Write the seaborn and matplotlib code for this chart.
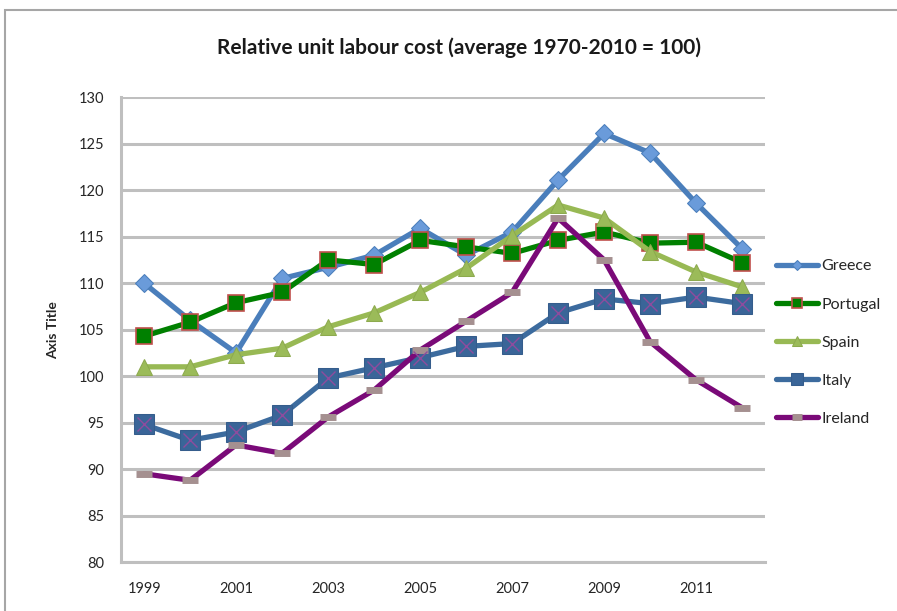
import matplotlib
matplotlib.use("Agg")
import matplotlib.pyplot as plt
from matplotlib.patches import Rectangle
import seaborn as sns

years = list(range(1999, 2013))
greece = [110.0, 106.0, 102.5, 110.5, 111.7, 113.0, 115.9, 113.0, 115.5, 121.1, 126.1, 124.0, 118.6, 113.7]
portugal = [104.3, 105.8, 107.9, 109.0, 112.5, 112.0, 114.6, 113.9, 113.2, 114.6, 115.5, 114.3, 114.4, 112.2]
spain = [101.0, 101.0, 102.3, 103.0, 105.3, 106.8, 109.0, 111.6, 115.1, 118.4, 117.0, 113.4, 111.2, 109.6]
italy = [94.8, 93.1, 94.0, 95.8, 99.8, 100.9, 102.0, 103.2, 103.5, 106.8, 108.3, 107.8, 108.5, 107.8]
ireland = [89.5, 88.8, 92.6, 91.7, 95.6, 98.5, 102.8, 105.9, 109.0, 117.0, 112.5, 103.7, 99.6, 96.6]

y_ticks = list(range(80, 131, 5))
x_ticks = [1999, 2001, 2003, 2005, 2007, 2009, 2011]

sns.set_style("white")
plt.rcParams['font.family'] = ['Lato', 'DejaVu Sans']

fig = plt.figure(figsize=(8.97, 6.11), dpi=100)
ax = fig.add_axes([0.135, 0.080, 0.718, 0.761])

# chart frame
fig.patches.append(Rectangle((0.006, -0.05), 1.2, 1.034, transform=fig.transFigure,
                             fill=False, edgecolor='#A6A6A6', linewidth=1.5))

lw = 3.8
series = [
    ("Greece", greece, dict(color='#4A7EBB', marker='D', markersize=9,
                            markerfacecolor='#6A9BDA', markeredgecolor='#4A7EBB')),
    ("Portugal", portugal, dict(color='#008000', marker='s', markersize=12,
                                markerfacecolor='#008000', markeredgecolor='#C0504D',
                                markeredgewidth=1.2)),
    ("Spain", spain, dict(color='#98B954', marker='^', markersize=12,
                          markerfacecolor='#9BBB59', markeredgecolor='#8DAA4E')),
    ("Italy", italy, dict(color='#3C6B9E', marker='s', markersize=14,
                          markerfacecolor='#3A6598', markeredgecolor='#355D8C')),
    ("Ireland", ireland, dict(color='#7A0A78', marker='_', markersize=12,
                              markeredgewidth=5, markeredgecolor='#A59090')),
]

handles = []
for name, vals, style in series:
    sns.lineplot(x=years, y=vals, ax=ax, linewidth=lw, label=name, zorder=3, **style)
    handles.append(ax.get_lines()[-1])

# purple cross on the Italy squares
sns.lineplot(x=years, y=italy, ax=ax, linestyle='', marker='x', markersize=10,
             markeredgewidth=1.0, color='#8E4C9E', markeredgecolor='#8E4C9E', zorder=4)
if ax.get_legend() is not None:
    ax.get_legend().remove()

leg = ax.legend(handles, [s[0] for s in series],
                loc='center left', bbox_to_anchor=(0.995, 0.472), frameon=False,
                fontsize=11.5, handlelength=2.6, handletextpad=0.2,
                labelspacing=1.5, markerscale=0.6, borderaxespad=0.5)

ax.set_xlim(1998.5, 2012.5)
ax.set_ylim(80, 130)
ax.set_yticks(y_ticks)
ax.set_xticks(x_ticks)
ax.set_xticklabels([str(y) for y in x_ticks])
ax.tick_params(axis='both', length=0, labelsize=10.5, colors='#262626')
ax.tick_params(axis='y', pad=12)
ax.tick_params(axis='x', pad=14)
ax.grid(axis='y', color='#BFBFBF', linewidth=2.2, zorder=0)
ax.set_axisbelow(True)
for side in ['top', 'right']:
    ax.spines[side].set_visible(False)
ax.spines['left'].set_color('#BFBFBF')
ax.spines['left'].set_linewidth(2.2)
ax.spines['bottom'].set_color('#BFBFBF')
ax.spines['bottom'].set_linewidth(2.2)

ax.set_ylabel("Axis Title", fontsize=10, fontweight='bold', labelpad=14)
ax.set_xlabel("")
fig.text(0.512, 0.922, "Relative unit labour cost (average 1970-2010 = 100)",
         ha='center', va='center', fontsize=15, fontweight='bold', color='#1a1a1a')

fig.savefig("out.png", dpi=100)
